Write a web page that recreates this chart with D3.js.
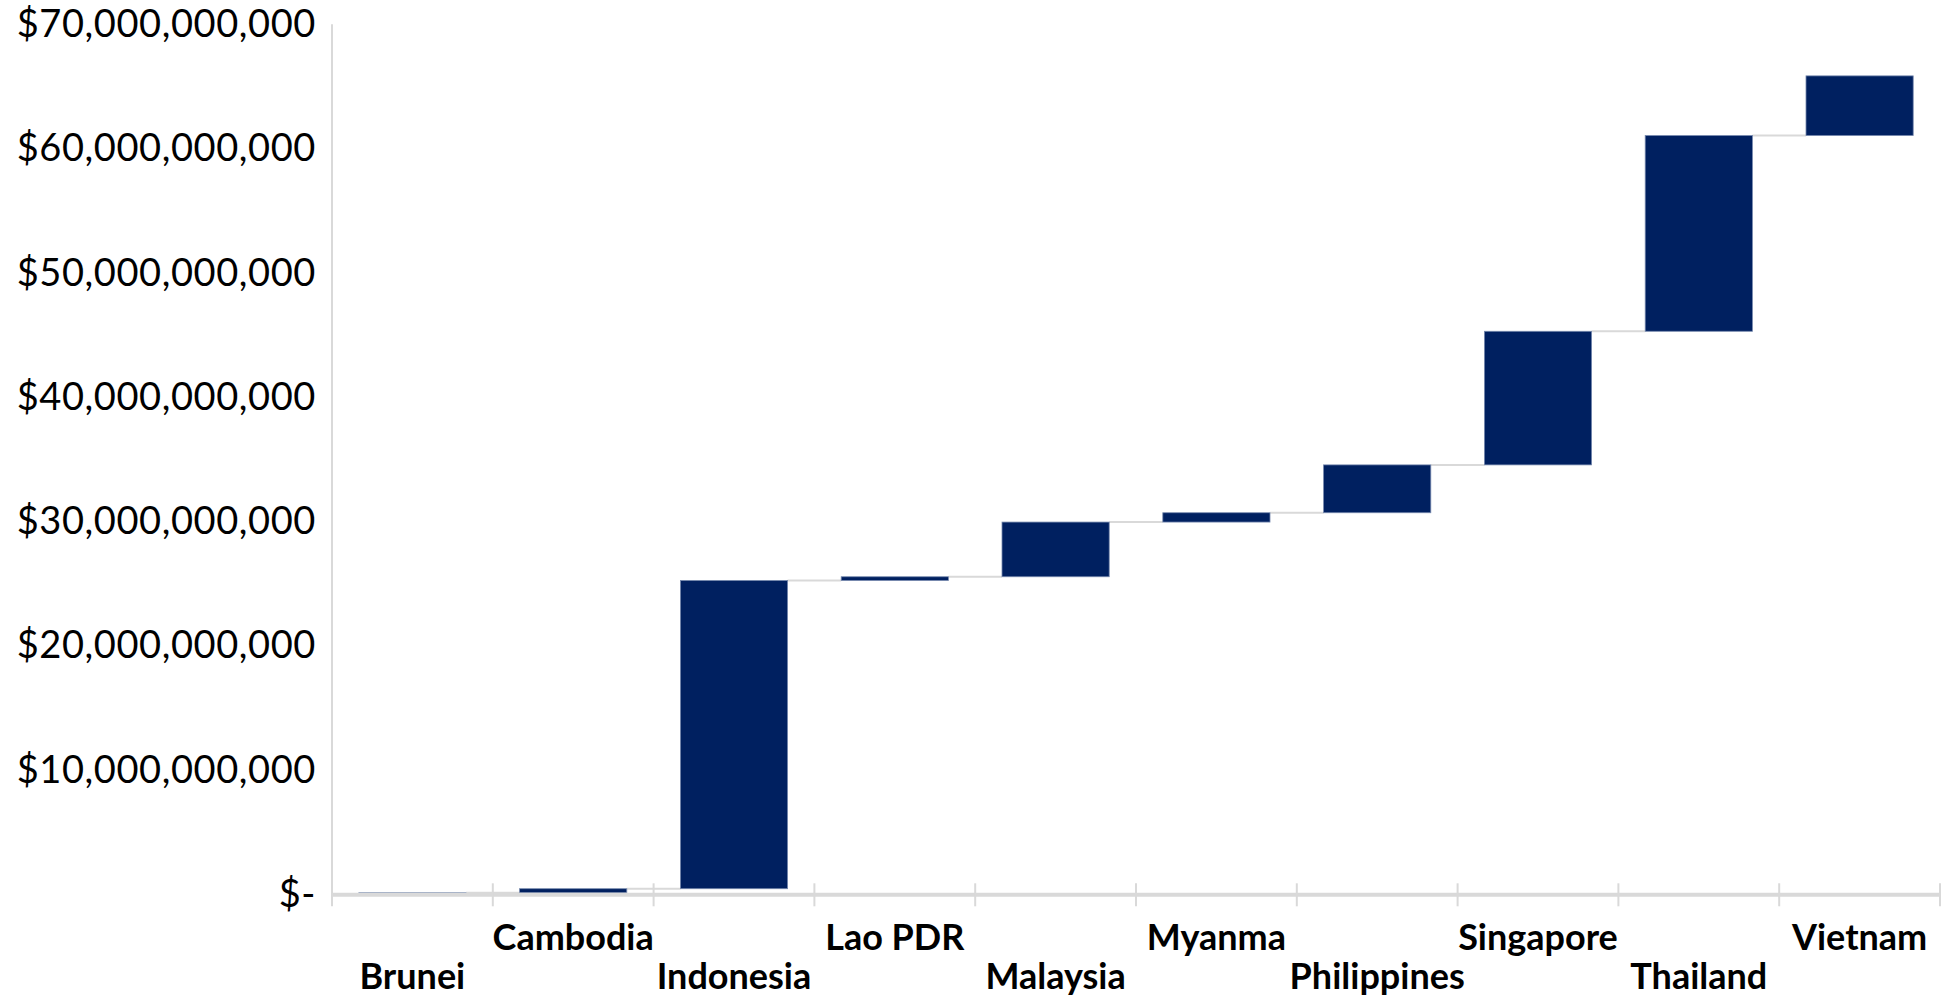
<!DOCTYPE html>
<html><head><meta charset="utf-8">
<script src="https://cdn.jsdelivr.net/npm/d3@7"></script>
<style>html,body{margin:0;padding:0;background:#fff;}svg{display:block;}</style>
</head><body>
<svg id="chart" width="1949" height="997"></svg>
<script>
const categories = ["Brunei","Cambodia","Indonesia","Lao PDR","Malaysia","Myanma","Philippines","Singapore","Thailand","Vietnam"];
const values = [0.12e9, 0.33e9, 24.8e9, 0.3e9, 4.4e9, 0.75e9, 3.85e9, 10.75e9, 15.75e9, 4.8e9];
const yTicks = [0, 10e9, 20e9, 30e9, 40e9, 50e9, 60e9, 70e9];

(function () {
const svg = d3.select("#chart");
const plotLeft = 332, plotRight = 1940, plotTop = 24.3, base = 894.3;

let cum = 0;
const steps = categories.map((c, i) => { const s = cum; cum += values[i]; return {c, start: s, end: cum}; });

const x = d3.scaleBand().domain(categories).range([plotLeft, plotRight]).paddingInner(1/3).paddingOuter(1/6);
const y = d3.scaleLinear().domain([0, 70e9]).range([base, plotTop]);

const fmt = d3.format(",");
const yAxis = d3.axisLeft(y).tickValues(yTicks).tickSize(0).tickPadding(16)
  .tickFormat(v => v === 0 ? "$-" : "$" + fmt(v));
const gy = svg.append("g").attr("transform", `translate(${plotLeft},0)`).call(yAxis);
gy.select(".domain").remove();
gy.selectAll("text").attr("font-family", "Lato, 'Open Sans', sans-serif").attr("font-size", 38)
  .attr("letter-spacing", "0.6px").attr("fill", "#000");

const gap = (x.step() - x.bandwidth());
// connectors
svg.append("g").selectAll("line").data(steps.slice(0, -1)).join("line")
  .attr("x1", d => x(d.c) + x.bandwidth())
  .attr("x2", (d, i) => x(categories[i + 1]))
  .attr("y1", d => y(d.end)).attr("y2", d => y(d.end))
  .attr("stroke", "#d9d9d9").attr("stroke-width", 2);

// bars
svg.append("g").selectAll("rect").data(steps).join("rect")
  .attr("x", d => x(d.c)).attr("width", x.bandwidth())
  .attr("y", d => y(d.end)).attr("height", d => y(d.start) - y(d.end))
  .attr("fill", "#002060").attr("stroke", "#7588ad").attr("stroke-width", 0.8);

// axis lines
svg.append("line").attr("x1", plotLeft).attr("x2", plotLeft).attr("y1", plotTop).attr("y2", base + 12)
  .attr("stroke", "#d9d9d9").attr("stroke-width", 2);
const xAxis = d3.axisBottom(x).tickSize(0).tickFormat("");
const gx = svg.append("g").attr("transform", `translate(0,${base})`).call(xAxis);
gx.select(".domain").attr("stroke", "#d9d9d9").attr("stroke-width", 4);
gx.selectAll(".tick").remove();
const bounds = categories.map(c => x(c) - gap / 2).concat([x(categories[categories.length - 1]) + x.bandwidth() + gap / 2]);
svg.append("g").selectAll("line").data(bounds.slice(1)).join("line")
  .attr("x1", d => d).attr("x2", d => d).attr("y1", base - 11).attr("y2", base + 12)
  .attr("stroke", "#d9d9d9").attr("stroke-width", 2);

// category labels (staggered)
svg.append("g").selectAll("text").data(categories).join("text")
  .attr("x", d => x(d) + x.bandwidth() / 2)
  .attr("y", (d, i) => i % 2 === 0 ? 989 : 950)
  .attr("text-anchor", "middle")
  .attr("font-family", "Lato, 'Open Sans', sans-serif").attr("font-weight", "bold")
  .attr("font-size", 36).attr("fill", "#000")
  .text(d => d);
})();
</script>
</body></html>
